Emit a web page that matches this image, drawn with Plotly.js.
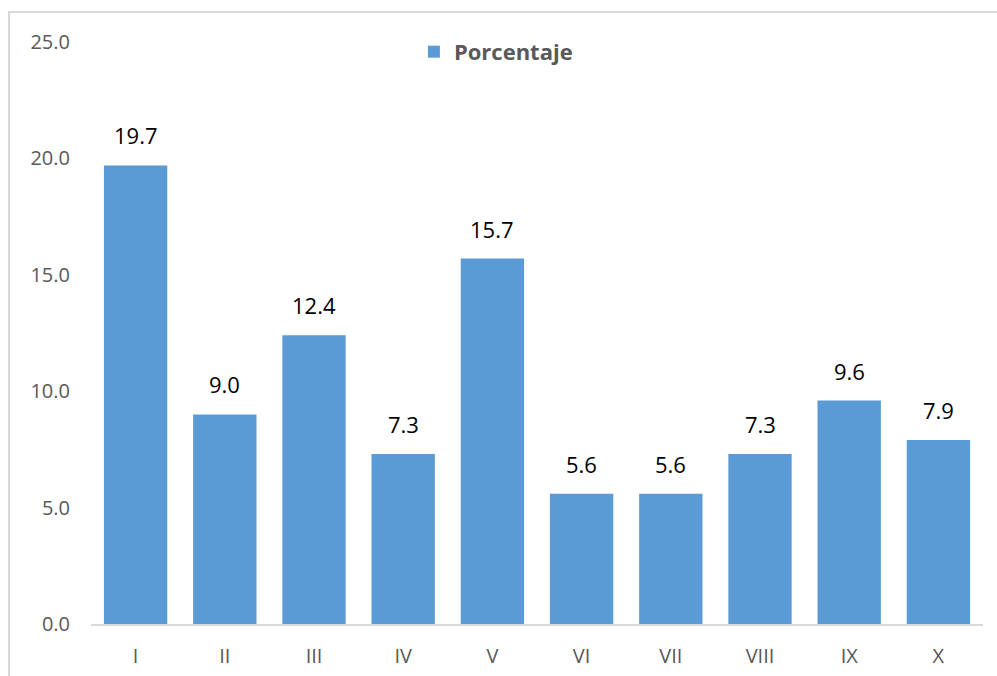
<!DOCTYPE html>
<html>
<head>
<meta charset="utf-8">
<script src="https://cdn.plot.ly/plotly-3.0.1.min.js"></script>
<style>
  html, body { margin: 0; padding: 0; background: #ffffff; overflow: hidden; }
  #wrap { position: relative; width: 997px; height: 676px; }
  #chart { position: absolute; left: 0; top: 0; width: 997px; height: 676px; }
  #frame { position: absolute; left: 8px; top: 11px; width: 1100px; height: 800px;
           border: 2px solid #d9d9d9; box-sizing: border-box; pointer-events: none; }
</style>
</head>
<body>
<div id="wrap">
  <div id="chart"></div>
  <div id="frame"></div>
</div>
<script>
// Percentage share by group (I–X)
const categories = ['I', 'II', 'III', 'IV', 'V', 'VI', 'VII', 'VIII', 'IX', 'X'];
const porcentaje = [19.7, 9.0, 12.4, 7.3, 15.7, 5.6, 5.6, 7.3, 9.6, 7.9];
const yTicks = [0, 5, 10, 15, 20, 25];
const seriesName = 'Porcentaje';

const barColor = '#5B9BD5';
const axisGray = '#595959';
const fontFamily = '"Open Sans", "Noto Sans", "Liberation Sans", sans-serif';

const trace = {
  type: 'bar',
  name: seriesName,
  x: categories,
  y: porcentaje,
  marker: { color: barColor, line: { width: 0 } },
  hoverinfo: 'x+y'
};

// value labels sitting above each bar
const labels = categories.map((c, i) => ({
  x: c,
  y: porcentaje[i],
  xref: 'x',
  yref: 'y',
  text: porcentaje[i].toFixed(1),
  showarrow: false,
  yanchor: 'bottom',
  yshift: 13,
  font: { family: fontFamily, size: 22, color: '#000000' }
}));

const layout = {
  width: 997,
  height: 676,
  margin: { l: 91, r: 14, t: 42, b: 52 },
  paper_bgcolor: '#ffffff',
  plot_bgcolor: '#ffffff',
  font: { family: fontFamily, color: axisGray },
  bargap: 0.29,
  showlegend: true,
  legend: {
    orientation: 'h',
    x: 0.362,
    xanchor: 'left',
    y: 0.983,
    yanchor: 'middle',
    bgcolor: 'rgba(0,0,0,0)',
    font: { family: fontFamily, size: 22, color: axisGray, weight: 700 }
  },
  xaxis: {
    type: 'category',
    showgrid: false,
    zeroline: false,
    showline: true,
    linecolor: '#d9d9d9',
    linewidth: 2,
    ticks: '',
    ticklabelstandoff: 13,
    tickfont: { family: fontFamily, size: 20, color: axisGray }
  },
  yaxis: {
    range: [0, 25],
    tickvals: yTicks,
    ticktext: yTicks.map(v => v.toFixed(1)),
    showgrid: false,
    zeroline: false,
    showline: false,
    ticks: '',
    ticklabelstandoff: 20,
    tickfont: { family: fontFamily, size: 20, color: axisGray }
  },
  annotations: labels
};

Plotly.newPlot('chart', [trace], layout, { displayModeBar: false, staticPlot: true });
</script>
</body>
</html>
